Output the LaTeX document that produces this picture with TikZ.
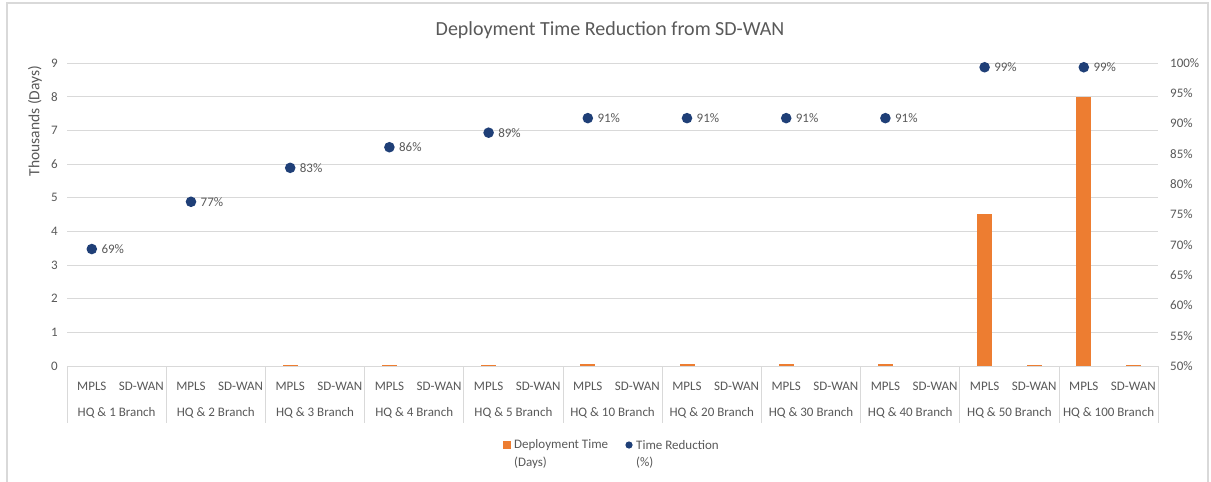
\documentclass[tikz,border=0pt]{standalone}
\usepackage{fontspec}
\setmainfont{Carlito}
\definecolor{txtgray}{HTML}{595959}
\definecolor{gridgray}{HTML}{D9D9D9}
\definecolor{barorange}{HTML}{ED7D31}
\definecolor{dotblue}{HTML}{1F3F77}
\begin{document}
\begin{tikzpicture}[x=1pt,y=-1pt,
  frame/.style={draw=gridgray,line width=1.2pt},
  grid/.style={draw=gridgray,line width=0.9pt},
  tick/.style={inner sep=0pt,text=txtgray,font=\fontsize{13}{15}\selectfont},
  axistitle/.style={inner sep=0pt,text=txtgray,font=\fontsize{15.5}{18}\selectfont},
  charttitle/.style={inner sep=0pt,text=txtgray,font=\fontsize{20}{24}\selectfont},
  bar/.style={fill=barorange},
  dot/.style={fill=dotblue}]
\useasboundingbox (0,0) rectangle (1211,482);
\fill[white] (0,0) rectangle (1211,482);
% chart frame (open at the bottom edge of the page)
\draw[frame] (7,495) -- (7,3) -- (1208,3) -- (1208,495);

% title
\node[charttitle] (title) at (610,30) {Deployment Time Reduction from SD-WAN};

% horizontal gridlines and category axis
\foreach \v in {1,...,9}
  \draw[grid] (67,{366-\v*33.67}) -- (1158,{366-\v*33.67});
\draw[grid] (67,366) -- (1158,366);
\foreach \i in {0,...,11}
  \draw[grid] ({67+\i*99.2},366) -- ({67+\i*99.2},423);

% primary axis (thousands of days)
\foreach \v in {0,...,9}
  \node[tick,anchor=east] (yl\v) at (58,{366-\v*33.67}) {\v};
\node[axistitle,rotate=90] (ytitle) at (35,121) {Thousands (Days)};

% secondary axis (percent)
\foreach \p in {50,55,...,100}
  \node[tick,anchor=west] (yr\p) at (1170,{366-(\p-50)*6.06}) {\p\%};

% bars: MPLS and SD-WAN deployment time
\foreach \i/\m/\s in {0/0/0,1/0/0,2/0.03/0,3/0.03/0,4/0.03/0,5/0.07/0,6/0.07/0,7/0.07/0,8/0.07/0,9/4.5/0.02,10/8/0.02}{
  \pgfmathsetmacro{\xm}{67+\i*99.2+24.8}
  \pgfmathsetmacro{\xs}{67+\i*99.2+74.4}
  \ifdim \m pt>0pt
    \fill[bar] ({\xm-7.5},366) rectangle ({\xm+7.5},{366-\m*33.67});
  \fi
  \ifdim \s pt>0pt
    \fill[bar] ({\xs-7.5},366) rectangle ({\xs+7.5},{366-\s*33.67});
  \fi
}

% category labels
\foreach \i/\b in {0/1,1/2,2/3,3/4,4/5,5/10,6/20,7/30,8/40,9/50,10/100}{
  \node[tick] (mpls\i) at ({67+\i*99.2+24.8},386) {MPLS};
  \node[tick] (sdwan\i) at ({67+\i*99.2+74.4},386) {SD-WAN};
  \node[tick] (grp\i) at ({67+\i*99.2+49.6},413) {HQ \& \b\ Branch};
}

% time reduction markers with data labels
\foreach \i/\p/\l in {0/69.3/69,1/77.1/77,2/82.7/83,3/86.1/86,4/88.5/89,5/90.9/91,6/90.9/91,7/90.9/91,8/90.9/91,9/99.3/99,10/99.3/99}{
  \pgfmathsetmacro{\xm}{67+\i*99.2+24.8}
  \pgfmathsetmacro{\yp}{366-(\p-50)*6.06}
  \fill[dot] (\xm,\yp) circle (5.3);
  \node[tick,anchor=west] (pct\i) at ({\xm+9.5},\yp) {\l\%};
}

% legend
\fill[bar] (503,441) rectangle (511,449);
\node[tick,anchor=west] (leg1a) at (514,445) {Deployment Time};
\node[tick,anchor=west] (leg1b) at (514,463) {(Days)};
\fill[dot] (629,445) circle (3.6);
\node[tick,anchor=west] (leg2a) at (636,445) {Time Reduction};
\node[tick,anchor=west] (leg2b) at (636,463) {(\%)};
\end{tikzpicture}
\end{document}
